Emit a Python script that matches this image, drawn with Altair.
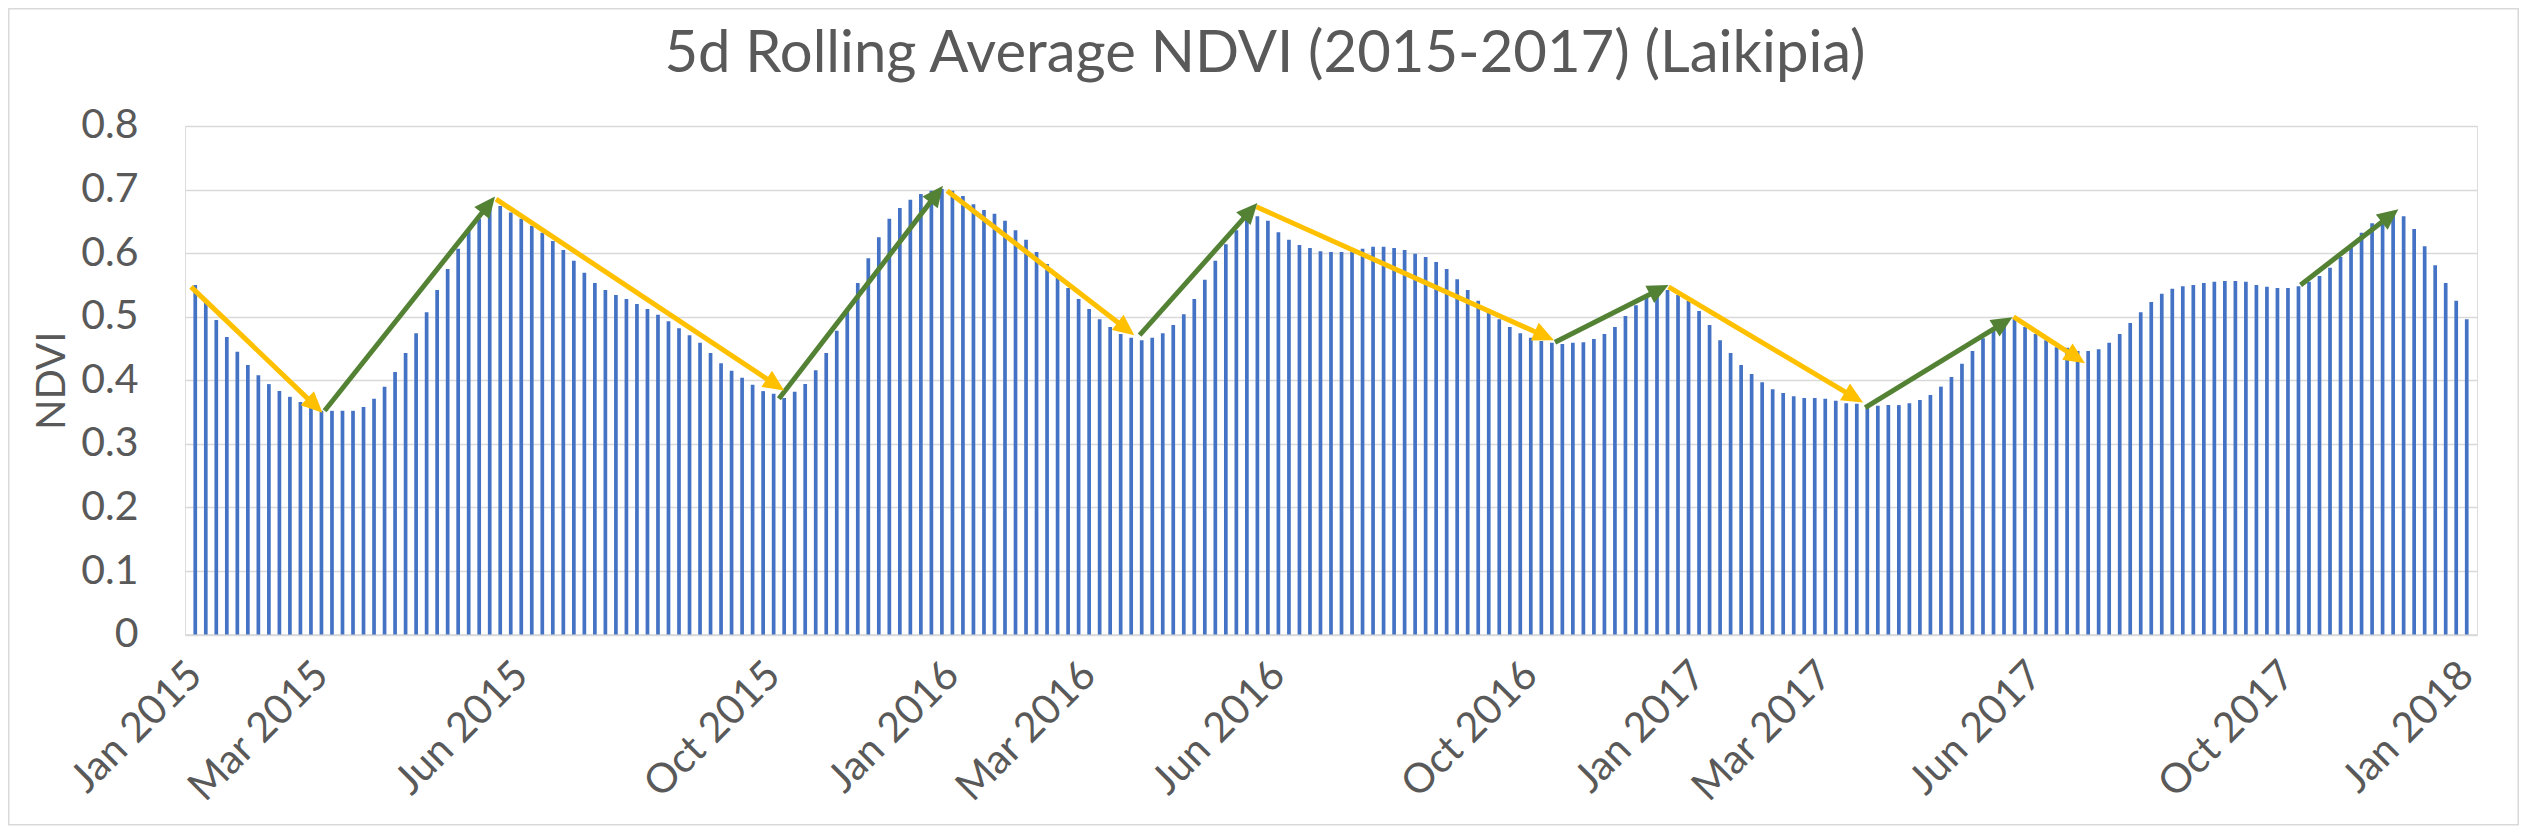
import math
import altair as alt
import pandas as pd

# ---------------- data ----------------
ndvi = [
    0.550, 0.522, 0.495, 0.468, 0.445, 0.424, 0.408, 0.394, 0.383, 0.374,
    0.366, 0.360, 0.352, 0.352, 0.352, 0.352, 0.358, 0.371, 0.390, 0.413,
    0.443, 0.474, 0.507, 0.542, 0.575, 0.607, 0.635, 0.654, 0.671, 0.674,
    0.664, 0.654, 0.643, 0.632, 0.619, 0.605, 0.588, 0.569, 0.553, 0.542,
    0.534, 0.528, 0.520, 0.512, 0.503, 0.493, 0.482, 0.471, 0.459, 0.443,
    0.427, 0.415, 0.404, 0.393, 0.383, 0.379, 0.372, 0.382, 0.394, 0.416,
    0.443, 0.478, 0.513, 0.553, 0.592, 0.625, 0.654, 0.671, 0.684, 0.693,
    0.698, 0.701, 0.698, 0.690, 0.677, 0.668, 0.662, 0.651, 0.636, 0.621,
    0.602, 0.583, 0.564, 0.545, 0.528, 0.512, 0.496, 0.484, 0.473, 0.467,
    0.463, 0.467, 0.474, 0.487, 0.504, 0.528, 0.558, 0.588, 0.614, 0.636,
    0.655, 0.658, 0.651, 0.633, 0.621, 0.613, 0.608, 0.603, 0.602, 0.602,
    0.603, 0.607, 0.610, 0.610, 0.608, 0.605, 0.599, 0.594, 0.586, 0.575,
    0.559, 0.542, 0.525, 0.508, 0.496, 0.484, 0.474, 0.467, 0.462, 0.459,
    0.457, 0.459, 0.460, 0.465, 0.473, 0.484, 0.501, 0.518, 0.530, 0.540,
    0.542, 0.534, 0.525, 0.509, 0.487, 0.463, 0.443, 0.424, 0.410, 0.397,
    0.386, 0.380, 0.375, 0.372, 0.372, 0.371, 0.368, 0.364, 0.363, 0.357,
    0.360, 0.361, 0.361, 0.364, 0.369, 0.377, 0.390, 0.405, 0.426, 0.446,
    0.466, 0.479, 0.490, 0.497, 0.484, 0.473, 0.463, 0.452, 0.451, 0.446,
    0.446, 0.449, 0.459, 0.473, 0.490, 0.507, 0.523, 0.536, 0.544, 0.548,
    0.550, 0.553, 0.555, 0.556, 0.556, 0.555, 0.550, 0.547, 0.545, 0.545,
    0.548, 0.555, 0.564, 0.577, 0.594, 0.610, 0.632, 0.647, 0.658, 0.663,
    0.658, 0.638, 0.611, 0.581, 0.553, 0.525, 0.496,
]

tick_index = [0, 12, 31, 55, 72, 85, 103, 127, 143, 155, 175, 199, 216]
tick_labels = ["Jan 2015", "Mar 2015", "Jun 2015", "Oct 2015", "Jan 2016",
               "Mar 2016", "Jun 2016", "Oct 2016", "Jan 2017", "Mar 2017",
               "Jun 2017", "Oct 2017", "Jan 2018"]
y_ticks = [0, 0.1, 0.2, 0.3, 0.4, 0.5, 0.6, 0.7, 0.8]

title_text = ["5d Rolling Average NDVI (2015-2017) (Laikipia)"]

# trend arrows (start index, start value, end index, end value, direction)
arrow_x1 = [-0.4, 12.3, 28.6, 55.5, 71.5, 89.8, 100.9, 129.3, 140.1, 158.8, 172.9, 200.2]
arrow_y1 = [0.547, 0.352, 0.685, 0.371, 0.698, 0.471, 0.673, 0.460, 0.547, 0.357, 0.500, 0.550]
arrow_x2 = [12.1, 28.5, 56.0, 71.1, 89.3, 101.0, 129.2, 140.1, 158.6, 172.8, 179.7, 209.5]
arrow_y2 = [0.349, 0.689, 0.384, 0.706, 0.471, 0.679, 0.463, 0.550, 0.365, 0.499, 0.427, 0.669]
arrow_dir = ["down", "up", "down", "up", "down", "up", "down", "up", "down", "up", "down", "up"]

# ---------------- layout ----------------
W, H = 2292, 508.6
PAD = {"left": 177, "top": 118, "right": 42, "bottom": 191}
N = len(ndvi)
XDOM = [-0.5, N - 0.5]
YDOM = [0, 0.8]
px_x = W / (XDOM[1] - XDOM[0])
px_y = H / (YDOM[1] - YDOM[0])
HEAD = 21.0

GREY = "#595959"
FONT = "Lato"

bars_df = pd.DataFrame({"idx": list(range(N)), "ndvi": ndvi})

rows = []
for x1, y1, x2, y2, d in zip(arrow_x1, arrow_y1, arrow_x2, arrow_y2, arrow_dir):
    dxp = (x2 - x1) * px_x
    dyp = -(y2 - y1) * px_y
    L = math.hypot(dxp, dyp)
    ang = math.degrees(math.atan2(dxp, -dyp)) % 360
    k = 0.7 * HEAD / L
    sx2 = x2 - (x2 - x1) * k
    sy2 = y2 - (y2 - y1) * k
    rows.append({"x1": x1, "y1": y1, "x2": x2, "y2": y2, "sx2": sx2, "sy2": sy2,
                 "angle": ang, "dir": d})
arrows_df = pd.DataFrame(rows)

xscale = alt.Scale(domain=XDOM, nice=False, zero=False)
yscale = alt.Scale(domain=YDOM, nice=False)

label_expr = "[" + ",".join("'%s'" % t for t in tick_labels) + "][indexof([" + \
    ",".join(str(i) for i in tick_index) + "], datum.value)]"

bars = alt.Chart(bars_df).mark_bar(size=3.7, color="#4472C4").encode(
    x=alt.X("idx:Q", scale=xscale,
            axis=alt.Axis(values=tick_index, labelExpr=label_expr, title=None,
                          grid=False, ticks=False, tickSize=0,
                          domain=True, domainColor="#D9D9D9", domainWidth=1.5,
                          labelAngle=315, labelAlign="right", labelBaseline="middle",
                          labelPadding=34, labelOverlap=False, labelFlush=False,
                          labelFont=FONT, labelFontSize=41, labelColor=GREY)),
    y=alt.Y("ndvi:Q", scale=yscale,
            axis=alt.Axis(values=y_ticks, format=".1~f", title="NDVI",
                          grid=True, gridColor="#D9D9D9", gridWidth=1.5,
                          ticks=False, tickSize=0, domain=False,
                          labelPadding=47, labelFont=FONT, labelFontSize=41,
                          labelColor=GREY,
                          titleFont=FONT, titleFontSize=40, titleColor=GREY,
                          titleFontWeight="normal", titleAngle=270,
                          titleX=-121, titleY=H / 2, titleAlign="center",
                          titleBaseline="alphabetic")),
)

color_enc = alt.Color("dir:N", scale=alt.Scale(domain=["down", "up"],
                                               range=["#FFC000", "#548235"]),
                      legend=None)

shafts = alt.Chart(arrows_df).mark_rule(strokeWidth=5, strokeCap="butt").encode(
    x=alt.X("x1:Q", scale=xscale), x2="sx2:Q",
    y=alt.Y("y1:Q", scale=yscale), y2="sy2:Q",
    color=color_enc,
)

heads = alt.Chart(arrows_df).mark_point(
    shape="M0,0L-0.46,1L0.46,1Z", filled=True, opacity=1, size=(2 * HEAD) ** 2,
    strokeWidth=0,
).encode(
    x=alt.X("x2:Q", scale=xscale), y=alt.Y("y2:Q", scale=yscale),
    angle=alt.Angle("angle:Q", scale=None),
    color=color_enc,
)

border = alt.Chart(pd.DataFrame({"a": [0]})).mark_rect(
    fill="transparent", stroke="#D9D9D9", strokeWidth=1.5).encode(
    x=alt.value(-PAD["left"] + 0.75), x2=alt.value(W + PAD["right"] - 0.75),
    y=alt.value(-PAD["top"] + 0.75), y2=alt.value(H + PAD["bottom"] - 0.75),
)

title = alt.Chart(pd.DataFrame({"t": title_text})).mark_text(
    font=FONT, fontSize=58, fontWeight="normal", color=GREY,
    align="center", baseline="alphabetic",
).encode(text="t:N", x=alt.value(1080), y=alt.value(-54))

chart = alt.layer(border, bars, shafts, heads, title).properties(
    width=W, height=H, padding=PAD,
    autosize=alt.AutoSizeParams(type="none"),
).configure_view(stroke="transparent").configure(background="white")

chart.save("out.html", embed_options={"renderer": "svg", "actions": False})
